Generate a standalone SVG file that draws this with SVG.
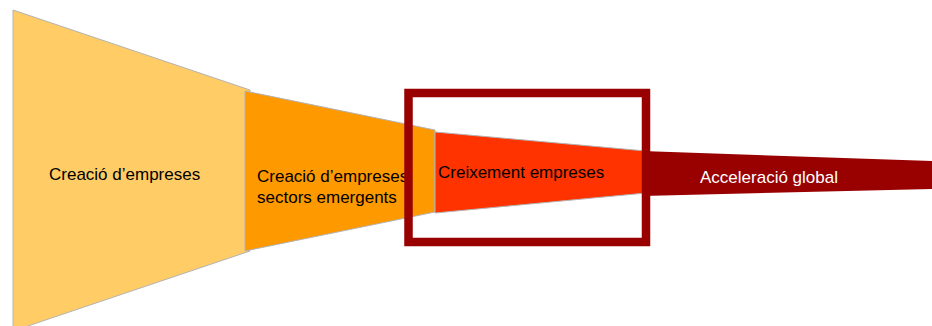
<svg xmlns="http://www.w3.org/2000/svg" width="932" height="326" viewBox="0 0 932 326">
  <style>
    .stage { stroke: #b3b3b3; stroke-width: 1; }
    .lbl { font-family: "Liberation Sans", Arial, sans-serif; font-size: 17px; fill: #000000; }
    .lbl-w { fill: #ffffff; }
  </style>
  <rect width="932" height="326" fill="#ffffff"/>
  <g id="stage-creacio">
    <polygon class="stage" points="13,10 250,90 250,251 13,331" fill="#FFCC66"/>
    <text class="lbl" x="49" y="180">Creació d’empreses</text>
  </g>
  <g id="stage-sectors">
    <polygon class="stage" points="245,91 435,130 435,212 245,251" fill="#FF9900"/>
    <text class="lbl" x="257" y="182">Creació d’empreses</text>
    <text class="lbl" x="257" y="203">sectors emergents</text>
  </g>
  <g id="stage-creixement">
    <polygon class="stage" points="435,132 646,151 646,193 435,213" fill="#FF3300"/>
    <text class="lbl" x="438" y="178">Creixement empreses</text>
  </g>
  <g id="stage-acceleracio">
    <polygon points="642,151 932,161 932,189 642,196" fill="#990000"/>
    <text class="lbl lbl-w" x="700" y="183">Acceleració global</text>
  </g>
  <g id="highlight-box">
    <rect x="408.5" y="93" width="237.5" height="149" fill="none" stroke="#990000" stroke-width="8.5"/>
  </g>
</svg>
